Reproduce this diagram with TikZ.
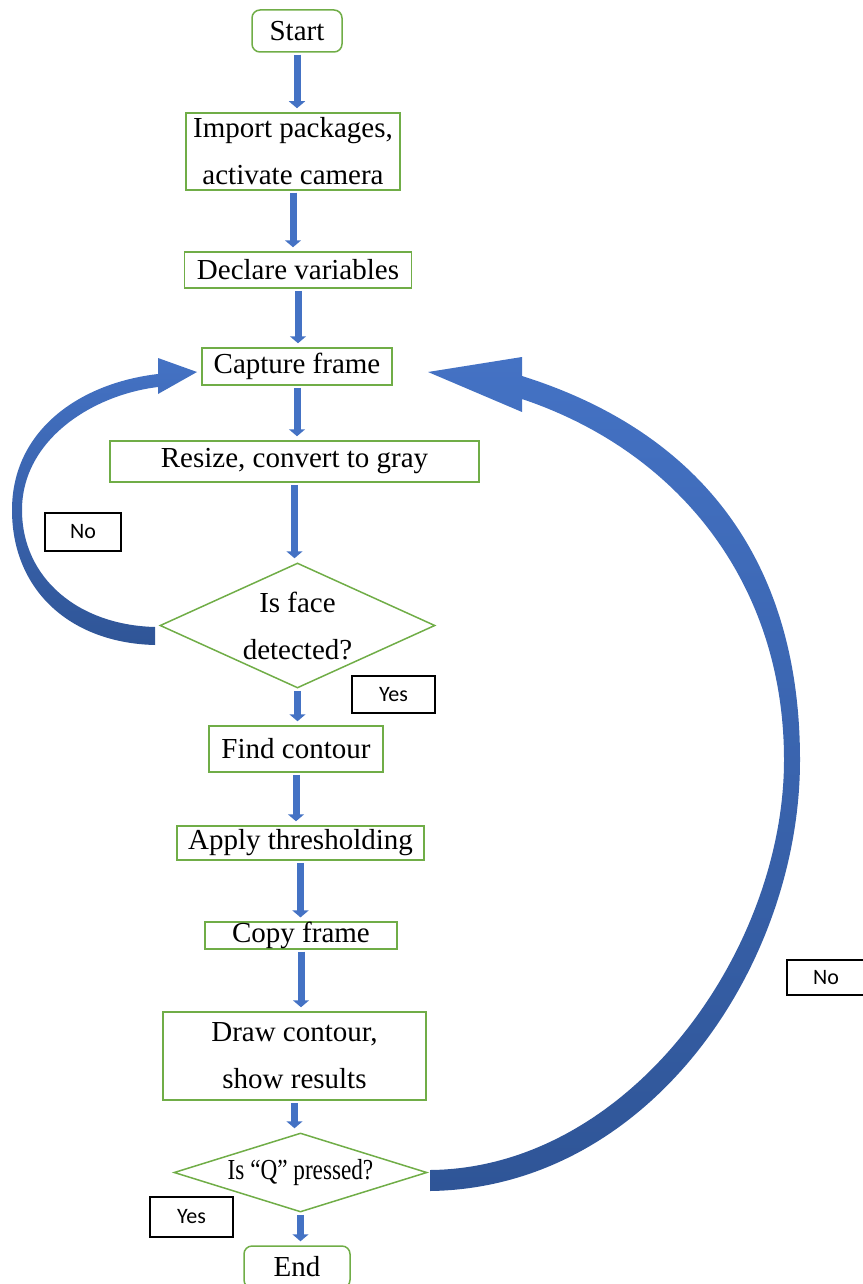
\documentclass[tikz,border=0pt]{standalone}
\usepackage{fontspec}
\usepackage{graphicx}
\setmainfont{Liberation Serif}
\newfontfamily\labelfont{Carlito}
\usetikzlibrary{shapes.geometric,arrows.meta,calc}
\definecolor{boxgreen}{HTML}{70AD47}
\definecolor{flowblue}{HTML}{4472C4}
\definecolor{darkblue}{HTML}{2F5597}
\begin{document}
\begin{tikzpicture}[x=1pt,y=-1pt,
  every node/.style={font=\fontsize{29}{47}\selectfont, inner sep=0pt},
  procbox/.style={draw=boxgreen, line width=1.5pt, align=center},
  termbox/.style={procbox, rounded corners=8pt},
  decbox/.style={draw=boxgreen, line width=1.5pt, diamond},
  tagbox/.style={draw=black, line width=1.5pt, font=\labelfont\fontsize{22}{26}\selectfont},
  flow/.style={draw=flowblue, line width=7pt, -{Triangle[width=16pt,length=7pt]}, shorten <=2pt, shorten >=4pt},
  bigarrow/.style={top color=flowblue, bottom color=darkblue, draw=none}
]
\useasboundingbox (0,0) rectangle (862,1284);

\node[termbox, minimum width=90pt, minimum height=42pt] (start) at (297,31) {Start};
\node[procbox, minimum width=214pt, minimum height=77pt] (import) at (293,151.5) {Import packages,\\activate camera};
\node[procbox, minimum width=227pt, minimum height=36pt] (declare) at (298,270) {Declare variables};
\node[procbox, minimum width=190pt, minimum height=37pt] (capture) at (297,366.5) {Capture frame};
\node[procbox, minimum width=369pt, minimum height=41pt] (resize) at (294.5,461.5) {Resize, convert to gray};
\node[decbox, minimum width=275pt, minimum height=125pt] (face) at (297.5,625.5) {};
\node[align=center] (facetext) at (face.center) {Is face\\detected?};
\node[procbox, minimum width=174pt, minimum height=46pt] (find) at (296,749) {Find contour};
\node[procbox, minimum width=247pt, minimum height=34pt] (apply) at (300.5,843) {Apply thresholding};
\node[procbox, minimum width=192pt, minimum height=25pt] (copy) at (301,935.5) {Copy frame};
\node[procbox, minimum width=263pt, minimum height=88pt] (drawc) at (294.5,1056) {Draw contour,\\show results};
\node[decbox, minimum width=253pt, minimum height=79pt] (qkey) at (300.5,1172.5) {};
\node (qtext) at (qkey.center) {\scalebox{0.8}[1]{Is “Q” pressed?}};
\node[termbox, minimum width=106pt, minimum height=42pt] (end) at (297,1267) {End};

\node[tagbox, minimum width=76pt, minimum height=38pt] (no1) at (83,532) {No};
\node[tagbox, minimum width=83pt, minimum height=37pt] (yes1) at (393.5,694.5) {Yes};
\node[tagbox, minimum width=83pt, minimum height=40pt] (yes2) at (191.5,1217) {Yes};
\node[tagbox, minimum width=78pt, minimum height=35pt] (no2) at (826,977.5) {No};

\draw[flow] (start.south) -- (start.south |- import.north);
\draw[flow] (import.south) -- (import.south |- declare.north);
\draw[flow] (declare.south) -- (declare.south |- capture.north);
\draw[flow] (capture.south) -- (capture.south |- resize.north);
\draw[flow] (resize.south) -- (resize.south |- face.north);
\draw[flow] (face.south) -- (face.south |- find.north);
\draw[flow] (find.south) -- (find.south |- apply.north);
\draw[flow] (apply.south) -- (apply.south |- copy.north);
\draw[flow] (copy.south) -- (copy.south |- drawc.north);
\draw[flow] (drawc.south) -- (drawc.south |- qkey.north);
\draw[flow] (qkey.south) -- (qkey.south |- end.north);

% No loop from face detection back to capture
\shade[bigarrow] (155,645) .. controls (70,643) and (12,590) .. (12,510)
  .. controls (12,430) and (80,383) .. (158,374) -- (158,358) -- (197,372)
  -- (158,394) -- (158,387) .. controls (92,395) and (22,440) .. (22,510)
  .. controls (22,578) and (78,625) .. (155,627) -- cycle;

% No loop from Q check back to capture
\shade[bigarrow] (430,1191) .. controls (650,1188) and (800,965) .. (800,760)
  .. controls (800,560) and (700,432) .. (522,376) -- (522,357) -- (428,372)
  -- (522,412) -- (522,399) .. controls (680,452) and (784,585) .. (784,760)
  .. controls (784,950) and (630,1168) .. (430,1170) -- cycle;
\end{tikzpicture}
\end{document}
